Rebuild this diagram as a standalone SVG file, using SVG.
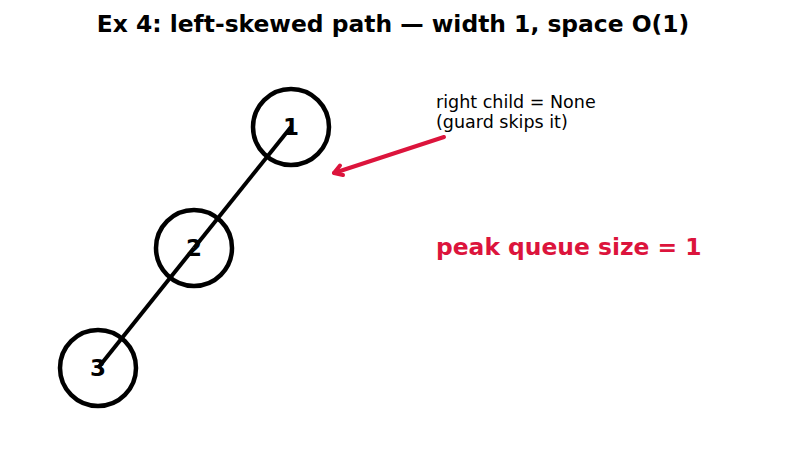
<svg xmlns="http://www.w3.org/2000/svg" width="787" height="455" viewBox="0 0 787 455">
<style>
text{font-family:"DejaVu Sans",sans-serif}
.node circle{fill:none;stroke:#000;stroke-width:4.5}
.node text{font-size:23px;font-weight:bold;text-anchor:middle;fill:#000}
.edge{stroke:#000;stroke-width:4;fill:none}
.note{font-size:17.5px;fill:#000}
.red{stroke:#DC143C;stroke-width:4;fill:none;stroke-linecap:round;stroke-linejoin:round}
</style>
<rect width="787" height="455" fill="#fff"/>
<text x="393" y="32" font-size="23.4" font-weight="bold" text-anchor="middle">Ex 4: left-skewed path — width 1, space O(1)</text>
<g id="n1" class="node"><circle cx="291" cy="127" r="38"/><text x="291" y="135">1</text></g>
<g id="n2" class="node"><circle cx="194" cy="248" r="38"/><text x="194" y="256">2</text></g>
<g id="n3" class="node"><circle cx="98" cy="368" r="38"/><text x="98" y="376">3</text></g>
<g id="edges">
<line class="edge" x1="291" y1="127" x2="194" y2="248"/>
<line class="edge" x1="194" y1="248" x2="98" y2="368"/>
</g>
<g id="annotation">
<text class="note" x="436" y="108">right child = None</text>
<text class="note" x="436" y="128">(guard skips it)</text>
<line class="red" x1="444" y1="137" x2="334" y2="173"/>
<polyline class="red" points="340,165.5 334,173 343,175"/>
</g>
<text x="436" y="255" font-size="23.4" font-weight="bold" fill="#DC143C">peak queue size = 1</text>
</svg>
